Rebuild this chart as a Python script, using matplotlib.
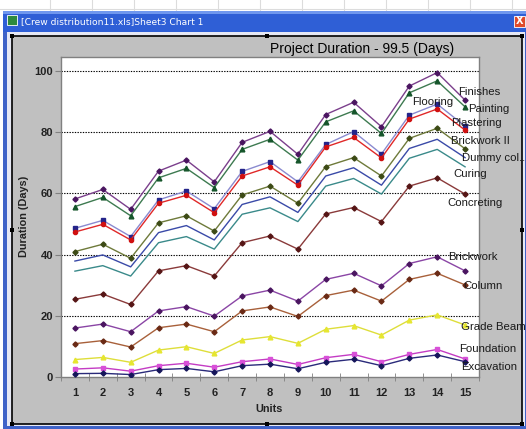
import matplotlib.pyplot as plt
from matplotlib.patches import Rectangle

# Data (units 1..15, duration in days)
units = list(range(1, 16))

finishes = [58.2, 61.3, 54.8, 67.3, 70.9, 63.8, 76.7, 80.3, 72.8, 85.8, 89.8, 81.8, 95.1, 99.5, 90.5]
painting = [55.7, 58.7, 52.7, 65.1, 68.2, 61.9, 74.4, 77.7, 70.9, 83.4, 87.0, 79.6, 92.9, 96.8, 88.3]
flooring = [48.6, 51.2, 45.9, 57.9, 60.8, 55.0, 67.2, 70.4, 63.8, 76.0, 80.2, 72.9, 85.6, 89.2, 82.0]
plastering = [47.4, 49.9, 44.8, 56.8, 59.4, 53.7, 65.7, 68.7, 62.7, 75.2, 78.3, 71.6, 84.3, 87.6, 80.7]
brickwork_2 = [41.0, 43.4, 38.8, 50.4, 52.7, 47.7, 59.5, 62.4, 56.8, 68.8, 71.7, 65.7, 78.0, 81.3, 74.6]
dummy_col = [37.9, 39.9, 36.0, 47.2, 49.5, 44.8, 56.4, 58.9, 53.8, 65.7, 68.4, 62.7, 74.7, 77.7, 71.7]
curing = [34.6, 36.4, 33.0, 43.9, 45.9, 41.8, 53.2, 55.3, 50.8, 62.4, 64.9, 59.8, 71.5, 74.4, 68.7]
concreting = [25.4, 27.1, 23.7, 34.7, 36.4, 33.0, 43.9, 46.1, 41.8, 53.3, 55.4, 50.8, 62.4, 65.1, 59.8]
brickwork = [16.0, 17.3, 14.8, 21.6, 23.0, 19.9, 26.5, 28.4, 24.8, 31.9, 33.9, 29.8, 37.1, 39.3, 34.7]
column = [10.9, 11.9, 9.8, 16.1, 17.3, 14.8, 21.6, 22.9, 19.8, 26.6, 28.4, 24.8, 31.9, 33.9, 30.1]
grade_beam = [5.7, 6.4, 4.8, 8.8, 9.9, 7.7, 12.1, 13.2, 11.0, 15.6, 16.8, 13.7, 18.6, 20.3, 17.0]
foundation = [2.6, 3.0, 1.9, 3.7, 4.5, 3.2, 5.0, 5.9, 4.1, 6.3, 7.4, 5.0, 7.4, 9.0, 5.9]
excavation = [1.1, 1.2, 0.8, 2.4, 2.8, 1.7, 3.7, 4.2, 2.7, 4.8, 5.8, 3.7, 6.1, 7.2, 5.0]

names = ['Finishes', 'Painting', 'Flooring', 'Plastering', 'Brickwork II', 'Dummy col..',
         'Curing', 'Concreting', 'Brickwork', 'Column', 'Grade Beam', 'Foundation', 'Excavation']
series = [finishes, painting, flooring, plastering, brickwork_2, dummy_col,
          curing, concreting, brickwork, column, grade_beam, foundation, excavation]

# style per series: line colour, marker, marker colour, marker size
styles = [
    ('#7b3f8c', 'D', '#4a1560', 2.6),
    ('#3d7a50', '^', '#15552a', 3.4),
    ('#8a8ad0', 's', '#24248a', 3.0),
    ('#e02828', 'o', '#d01010', 3.0),
    ('#6e7a3a', 'D', '#3c4a15', 2.6),
    ('#3a4aa8', None, '#3a4aa8', 0),
    ('#3a8a8a', None, '#3a8a8a', 0),
    ('#8a3a3a', 'D', '#551515', 2.6),
    ('#8a45a5', 'D', '#4a1560', 2.6),
    ('#a8603a', 'D', '#6a2a15', 2.6),
    ('#dede3a', '^', '#e6e630', 3.4),
    ('#c43cc4', 's', '#d850d8', 3.0),
    ('#2a2a7a', 'D', '#15155a', 2.6),
]

# label offsets (pixels) from the last point of each series
label_dx = [-7, 3, -53, -14, -14, -3, -12, -18, -17, -2, -4, -6, -4]
label_dy = [8, -2, 24, 7, 8, 0, -7, -9, 14, -1, -2, 10, -5]

W, H = 526, 429
fig = plt.figure(figsize=(W / 100, H / 100), dpi=100)
fig.patch.set_facecolor('white')


def rect(x0, y0, x1, y1, **kw):
    # pixel box (origin top-left) drawn on the figure, behind the axes
    fig.add_artist(Rectangle((x0 / W, 1 - y1 / H), (x1 - x0) / W, (y1 - y0) / H,
                             transform=fig.transFigure, zorder=-2, **kw))


# spreadsheet behind the window
for gx in range(50, W, 42):
    fig.add_artist(plt.Line2D([gx / W, gx / W], [1 - 12 / H, 1], color='#dcdcdc', lw=0.8, zorder=-3))
fig.add_artist(plt.Line2D([0, 1], [1 - 9 / H, 1 - 9 / H], color='#dcdcdc', lw=0.8, zorder=-3))

# window frame + title bar
rect(3, 11, W, H, facecolor='#3f63c8', edgecolor='none')
rect(7, 32, W - 1, H - 3, facecolor='#e6e8f4', edgecolor='none')
rect(3, 11, W, 32, facecolor='#2f5fd6', edgecolor='none')
rect(3, 11, W, 14, facecolor='#6f97ee', edgecolor='none')
rect(7, 15, 17, 25, facecolor='#2e8a3e', edgecolor='white', lw=0.6)
fig.text(21 / W, 1 - 21.5 / H, '[Crew distribution11.xls]Sheet3 Chart 1', color='white',
         fontsize=6.6, family='DejaVu Sans', va='center', ha='left')
rect(514, 16, 525, 27, facecolor='#e04a2a', edgecolor='white', lw=0.6)
fig.text(519.5 / W, 1 - 21.5 / H, 'X', color='white', fontsize=7, fontweight='bold',
         va='center', ha='center')

# chart area
rect(12, 36, 522, 424, facecolor='#c0c0c0', edgecolor='black', lw=1.2)
for hx, hy in [(12, 36), (267, 36), (522, 36), (12, 230), (522, 230),
               (12, 424), (267, 424), (522, 424)]:
    rect(hx - 2, hy - 2, hx + 2, hy + 2, facecolor='black', edgecolor='none')

# plot area
ax = fig.add_axes([61 / W, 1 - 377 / H, (479 - 61) / W, (377 - 57) / H])
ax.set_zorder(2)
ax.set_facecolor('white')
ax.set_xlim(0.5, 15.5)
ax.set_ylim(0, 104.6)

for vals, name, (lc, mk, mc, ms), dx, dy in zip(series, names, styles, label_dx, label_dy):
    ax.plot(units, vals, color=lc, lw=1.0, marker=mk, markersize=ms,
            markerfacecolor=mc, markeredgecolor=mc, zorder=3)
    ax.annotate(name, xy=(units[-1], vals[-1]), xytext=(dx, dy), textcoords='offset pixels',
                ha='left', va='center', fontsize=8.2, family='Liberation Sans',
                color='#1a1a1a', annotation_clip=False, zorder=4)

ax.set_yticks([0, 20, 40, 60, 80, 100])
for gy in [20, 40, 60, 80, 100]:
    ax.axhline(gy, color='black', lw=0.8, ls=(0, (1.2, 1.2)), zorder=1)

ax.set_xticks(units)
ax.set_xticks([u + 0.5 for u in range(0, 16)], minor=True)
ax.tick_params(axis='x', which='major', length=0, pad=8)
ax.tick_params(axis='x', which='minor', direction='inout', length=6, color='#808080')
ax.tick_params(axis='y', direction='out', length=4.3, color='#808080', pad=1.5)
for lab in ax.get_xticklabels() + ax.get_yticklabels():
    lab.set_fontweight('bold')
    lab.set_fontsize(8)
    lab.set_family('Liberation Sans')
    lab.set_color('#222222')

for sp in ax.spines.values():
    sp.set_color('#808080')
    sp.set_linewidth(1.0)

fig.text(362 / W, 1 - 49 / H, 'Project Duration - 99.5 (Days)', ha='center', va='center',
         fontsize=10, family='Liberation Sans', color='black')
fig.text(24 / W, 1 - 216 / H, 'Duration (Days)', rotation=90, ha='center', va='center',
         fontsize=7.8, fontweight='bold', family='Liberation Sans', color='#222222')
fig.text(269 / W, 1 - 409 / H, 'Units', ha='center', va='center',
         fontsize=7.8, fontweight='bold', family='Liberation Sans', color='#222222')

fig.savefig('out.png', dpi=100)
